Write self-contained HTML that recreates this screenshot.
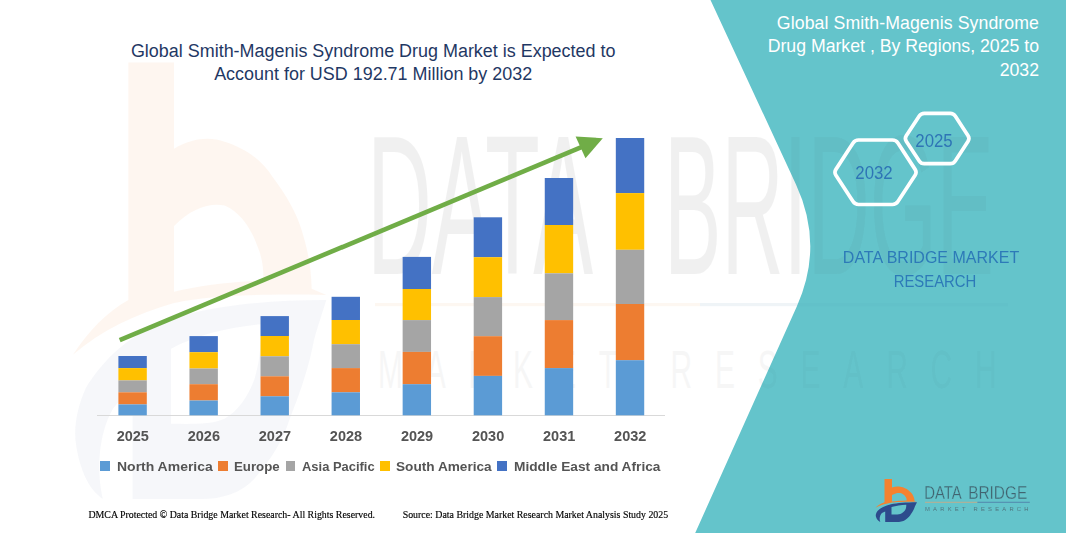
<!DOCTYPE html>
<html><head><meta charset="utf-8"><title>Global Smith-Magenis Syndrome Drug Market</title>
<style>
html,body{margin:0;padding:0;background:#fff;}
body{width:1066px;height:533px;position:relative;overflow:hidden;font-family:"Liberation Sans",sans-serif;}
svg{position:absolute;left:0;top:0;}
.title{left:73.2px;width:600px;top:39.73px;text-align:center;color:#1F3864;font-size:17.95px;line-height:23.4px;white-space:nowrap;position:absolute;}
.rtitle{right:27px;width:300px;top:12.02px;text-align:right;color:#fff;font-size:17.7px;line-height:23.3px;white-space:nowrap;position:absolute;}
.yr{position:absolute;top:426.88px;width:60px;text-align:center;font-weight:bold;font-size:14.5px;line-height:19px;color:#545454;}
.lg{position:absolute;top:456.52px;font-weight:bold;font-size:13.5px;line-height:19px;color:#545454;white-space:nowrap;transform-origin:left center;}
.sq{position:absolute;top:460.9px;width:9.8px;height:9.8px;}
.ft{position:absolute;top:509.27px;font-family:"Liberation Serif",serif;font-size:9.88px;line-height:12px;color:#000;white-space:nowrap;-webkit-text-stroke:0.15px #000;}
.hx{position:absolute;width:60px;text-align:center;font-size:17.6px;line-height:20px;color:#2E75B6;transform:scaleX(0.955);}
.dbmr{position:absolute;left:781.2px;width:300px;text-align:center;color:#2D7AB8;font-size:17.2px;line-height:23.9px;white-space:nowrap;}
.lt1{position:absolute;left:925px;top:482px;font-size:18px;line-height:22px;color:#456370;white-space:nowrap;transform-origin:left center;transform:scaleX(0.88);}
.lt2{position:absolute;left:925px;top:504.2px;font-size:6px;line-height:8px;color:#4a5560;white-space:nowrap;letter-spacing:3.0px;}
</style></head><body>
<svg width="1066" height="533" viewBox="0 0 1066 533">
<defs><g id="lgO"><path fill-rule="evenodd" fill="#F5822F" d="M884.5 478.9 H892 V487.4 C895 486.3 898 486.2 900.3 486.7 C904 487.4 906.5 488.6 908.1 490.1 C910.5 492 912.2 493.8 913 495.5 C914 497.5 914.5 499 914.6 501.2 L917 501.8 C905 501.6 896 502 892 502.6 C886 503.6 880 505.3 875.4 507.7 C878 505.3 881 503.5 884.5 502.3 Z M892 495 C895 493.2 898 492.7 900.3 493 C902.5 493.5 904.5 495 905.7 497 C906.4 498 906.7 499 906.7 500.4 C901 500.5 896 500.9 892 501.5 Z"/></g>
<g id="lgN"><path fill-rule="evenodd" fill="#2D4B8C" d="M917 502.3 C906 502.3 897 503 891 504.3 C885 505.6 880.5 508 877.5 511 C876 513 875.5 515 875.9 516.5 C876.5 519 878 521 880.3 521.9 C879 518.5 880 515 882 513 C883 512.2 884 511.8 885.2 511.4 V521.9 H896.4 C900 521.9 903 521.3 905.2 519.9 C908 518 910 516 911 514 C913 511 914.3 508.5 915 506.2 C915.8 504.5 916.5 503.3 917 502.3 Z M891.5 507.1 C896 505.7 901 505 906.3 504.7 C906.3 507 906 508.6 905.2 510.1 C904 512 902.5 513.2 900.3 514 C898 514.6 895 514.5 891.5 514.5 Z"/></g>
<g id="lgL"><rect x="925" y="501.8" width="52.4" height="0.9" fill="#C9AC86"/>
<rect x="977.4" y="501.8" width="52.4" height="0.9" fill="#4F80A8"/></g>
<g id="lgT"><text x="924.2" y="499.3" font-family="Liberation Sans, sans-serif" font-size="18.3" fill="#416470" textLength="37.6" lengthAdjust="spacingAndGlyphs">DATA</text><text x="968.2" y="499.3" font-family="Liberation Sans, sans-serif" font-size="18.3" fill="#416470" textLength="59" lengthAdjust="spacingAndGlyphs">BRIDGE</text></g>
<g id="lgM"><text x="925" y="510.6" font-family="Liberation Sans, sans-serif" font-size="5.8" fill="#4d6873" textLength="103.5" lengthAdjust="spacing">MARKET RESEARCH</text>
</g>
<g id="wm"><g transform="translate(-5258.25 -4798.35) scale(6.09 10.15)"><use href="#lgO" opacity="0.072"/><use href="#lgN" opacity="0.045"/></g>
<g font-family="Liberation Sans, sans-serif" fill="#4a4a4a">
<text x="367" y="273.5" font-size="198" textLength="226" lengthAdjust="spacingAndGlyphs" opacity="0.075">DATA</text>
<text x="664" y="273.5" font-size="198" textLength="330" lengthAdjust="spacingAndGlyphs" opacity="0.075">BRIDGE</text>
<text transform="translate(378 388) scale(0.55 1)" x="0" y="0" font-size="54.5" textLength="1125" lengthAdjust="spacing" opacity="0.045">MARKET RESEARCH</text>
</g>
<rect x="375" y="303" width="325" height="3.2" fill="#E9A15F" opacity="0.09"/>
<rect x="700" y="303" width="308" height="3.2" fill="#4F80A8" opacity="0.09"/>
</g></defs>
<!-- watermark -->
<use href="#wm"/>
<!-- teal panel -->
<path d="M710.5 0 L795.9 184.2 Q824.2 245.2 796.9 306.2 L695.2 533 L1066 533 L1066 0 Z" fill="#64C4CB"/>
<clipPath id="cp"><path d="M710.5 0 L795.9 184.2 Q824.2 245.2 796.9 306.2 L695.2 533 L1066 533 L1066 0 Z"/></clipPath>
<g clip-path="url(#cp)" opacity="0.6"><use href="#wm"/></g>
<!-- axis -->
<rect x="97" y="415" width="568" height="1" fill="#D9D9D9"/>
<rect x="118.40" y="356.00" width="28.4" height="12.10" fill="#4472C4"/>
<rect x="118.40" y="368.10" width="28.4" height="12.30" fill="#FFC000"/>
<rect x="118.40" y="380.40" width="28.4" height="11.90" fill="#A5A5A5"/>
<rect x="118.40" y="392.30" width="28.4" height="12.10" fill="#ED7D31"/>
<rect x="118.40" y="404.40" width="28.4" height="10.90" fill="#5B9BD5"/>
<rect x="189.46" y="336.10" width="28.4" height="16.10" fill="#4472C4"/>
<rect x="189.46" y="352.20" width="28.4" height="16.30" fill="#FFC000"/>
<rect x="189.46" y="368.50" width="28.4" height="15.70" fill="#A5A5A5"/>
<rect x="189.46" y="384.20" width="28.4" height="16.30" fill="#ED7D31"/>
<rect x="189.46" y="400.50" width="28.4" height="14.80" fill="#5B9BD5"/>
<rect x="260.52" y="316.10" width="28.4" height="19.90" fill="#4472C4"/>
<rect x="260.52" y="336.00" width="28.4" height="20.30" fill="#FFC000"/>
<rect x="260.52" y="356.30" width="28.4" height="20.00" fill="#A5A5A5"/>
<rect x="260.52" y="376.30" width="28.4" height="20.00" fill="#ED7D31"/>
<rect x="260.52" y="396.30" width="28.4" height="19.00" fill="#5B9BD5"/>
<rect x="331.58" y="296.80" width="28.4" height="23.20" fill="#4472C4"/>
<rect x="331.58" y="320.00" width="28.4" height="24.20" fill="#FFC000"/>
<rect x="331.58" y="344.20" width="28.4" height="23.90" fill="#A5A5A5"/>
<rect x="331.58" y="368.10" width="28.4" height="24.20" fill="#ED7D31"/>
<rect x="331.58" y="392.30" width="28.4" height="23.00" fill="#5B9BD5"/>
<rect x="402.64" y="256.90" width="28.4" height="32.10" fill="#4472C4"/>
<rect x="402.64" y="289.00" width="28.4" height="31.10" fill="#FFC000"/>
<rect x="402.64" y="320.10" width="28.4" height="31.80" fill="#A5A5A5"/>
<rect x="402.64" y="351.90" width="28.4" height="32.30" fill="#ED7D31"/>
<rect x="402.64" y="384.20" width="28.4" height="31.10" fill="#5B9BD5"/>
<rect x="473.70" y="217.30" width="28.4" height="39.90" fill="#4472C4"/>
<rect x="473.70" y="257.20" width="28.4" height="39.90" fill="#FFC000"/>
<rect x="473.70" y="297.10" width="28.4" height="39.10" fill="#A5A5A5"/>
<rect x="473.70" y="336.20" width="28.4" height="39.70" fill="#ED7D31"/>
<rect x="473.70" y="375.90" width="28.4" height="39.40" fill="#5B9BD5"/>
<rect x="544.76" y="178.00" width="28.4" height="47.00" fill="#4472C4"/>
<rect x="544.76" y="225.00" width="28.4" height="48.30" fill="#FFC000"/>
<rect x="544.76" y="273.30" width="28.4" height="46.80" fill="#A5A5A5"/>
<rect x="544.76" y="320.10" width="28.4" height="48.00" fill="#ED7D31"/>
<rect x="544.76" y="368.10" width="28.4" height="47.20" fill="#5B9BD5"/>
<rect x="615.82" y="138.00" width="28.4" height="55.10" fill="#4472C4"/>
<rect x="615.82" y="193.10" width="28.4" height="56.70" fill="#FFC000"/>
<rect x="615.82" y="249.80" width="28.4" height="54.20" fill="#A5A5A5"/>
<rect x="615.82" y="304.00" width="28.4" height="56.20" fill="#ED7D31"/>
<rect x="615.82" y="360.20" width="28.4" height="55.10" fill="#5B9BD5"/>
<!-- arrow -->
<line x1="119.7" y1="340.2" x2="582" y2="146.9" stroke="#70AD47" stroke-width="4.6"/>
<polygon points="602.8,138.2 575.6,136.6 585.5,158.3" fill="#70AD47"/>
<!-- hexagons -->
<path d="M835.91 175.23 Q834.00 172.30 835.91 169.37 L853.09 142.93 Q855.00 140.00 858.50 140.00 L892.50 140.00 Q896.00 140.00 897.91 142.93 L915.09 169.37 Q917.00 172.30 915.09 175.23 L897.91 201.57 Q896.00 204.50 892.50 204.50 L858.50 204.50 Q855.00 204.50 853.09 201.57 Z" fill="none" stroke="#fff" stroke-width="3.7" stroke-linejoin="round"/>
<path d="M906.25 141.18 Q904.50 138.50 906.25 135.82 L919.25 115.98 Q921.00 113.30 924.20 113.30 L950.30 113.30 Q953.50 113.30 955.24 115.99 L968.06 135.81 Q969.80 138.50 968.06 141.19 L955.24 161.01 Q953.50 163.70 950.30 163.70 L924.20 163.70 Q921.00 163.70 919.25 161.02 Z" fill="none" stroke="#fff" stroke-width="3.7" stroke-linejoin="round"/>
<!-- logo -->
<use href="#lgO"/><use href="#lgN"/><use href="#lgL"/><use href="#lgT" stroke="#64C4CB" stroke-width="0.3"/><use href="#lgM" stroke="#64C4CB" stroke-width="0.1"/>
</svg>
<div class="title">Global Smith-Magenis Syndrome Drug Market is Expected to<br>Account for USD 192.71 Million by 2032</div>
<div class="rtitle"><span style="letter-spacing:0.09px">Global Smith-Magenis Syndrome</span><br>Drug Market , By Regions, 2025 to<br>2032</div>
<div class="yr" style="left:102.80px">2025</div>
<div class="yr" style="left:173.86px">2026</div>
<div class="yr" style="left:244.92px">2027</div>
<div class="yr" style="left:315.98px">2028</div>
<div class="yr" style="left:387.04px">2029</div>
<div class="yr" style="left:458.10px">2030</div>
<div class="yr" style="left:529.16px">2031</div>
<div class="yr" style="left:600.22px">2032</div>
<div class="sq" style="left:100.4px;background:#5B9BD5"></div><div class="lg" style="left:116.7px;transform:scaleX(1.035)">North America</div>
<div class="sq" style="left:218.1px;background:#ED7D31"></div><div class="lg" style="left:234.4px;transform:scaleX(0.981)">Europe</div>
<div class="sq" style="left:285.6px;background:#A5A5A5"></div><div class="lg" style="left:301.7px;transform:scaleX(0.958)">Asia Pacific</div>
<div class="sq" style="left:379.9px;background:#FFC000"></div><div class="lg" style="left:395.9px;transform:scaleX(1.0095)">South America</div>
<div class="sq" style="left:497.2px;background:#4472C4"></div><div class="lg" style="left:514.1px;transform:scaleX(1.015)">Middle East and Africa</div>

<div class="ft" style="left:88.4px">DMCA Protected © Data Bridge Market Research- All Rights Reserved.</div>
<div class="ft" style="left:402.7px">Source: Data Bridge Market Research Market Analysis Study 2025</div>
<div class="hx" style="left:844.3px;top:162.80px">2032</div>
<div class="hx" style="left:904.2px;top:130.60px">2025</div>
<div class="dbmr" style="top:246.19px;transform:scaleX(0.931)">DATA BRIDGE MARKET</div>
<div class="dbmr" style="top:270.09px;left:784.6px;transform:scaleX(0.866)">RESEARCH</div>
</body></html>
